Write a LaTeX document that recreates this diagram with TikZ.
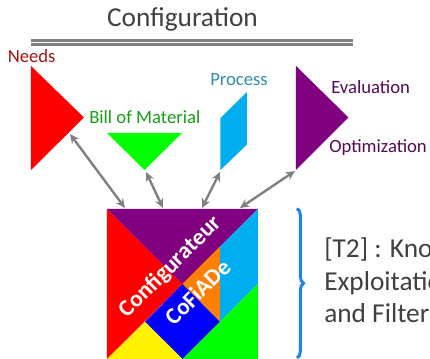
\documentclass[tikz,border=0pt]{standalone}
\usepackage{fontspec}
\setmainfont{Carlito}
\usetikzlibrary{decorations.pathreplacing,arrows.meta}
\definecolor{cred}{RGB}{255,0,0}
\definecolor{cgreen}{RGB}{0,255,0}
\definecolor{ccyan}{RGB}{0,174,239}
\definecolor{cpurple}{RGB}{128,0,128}
\definecolor{cblue}{RGB}{0,0,255}
\definecolor{corange}{RGB}{255,128,0}
\definecolor{cyellow}{RGB}{255,242,0}
\definecolor{tred}{RGB}{160,20,20}
\definecolor{tgreen}{RGB}{20,160,20}
\definecolor{tblue}{RGB}{50,140,170}
\definecolor{tpurple}{RGB}{85,10,85}
\definecolor{tgrey}{RGB}{64,64,64}
\definecolor{cbrace}{RGB}{30,130,240}
\tikzset{x=0.75pt,y=-0.75pt,
 lab/.style={inner sep=0pt,anchor=base west,font=\fontsize{14}{16}\selectfont},
 arr/.style={draw=gray,line width=1.8pt,{Stealth[length=7pt,width=6.5pt]}-{Stealth[length=7pt,width=6.5pt]}},
 big/.style={inner sep=0pt,anchor=base west,text=tgrey,font=\fontsize{20.5}{24}\selectfont},
 rot/.style={inner sep=0pt,text=white,rotate=45,font=\bfseries\fontsize{17.5}{20}\selectfont}}
\begin{document}
\begin{tikzpicture}
\useasboundingbox (0,0) rectangle (430,359);
\clip (0,0) rectangle (430,359);
\node[big,anchor=base] (title) at (182.5,27) {Configuration};
\draw[gray,line width=1.8pt] (31,40.5) -- (353,40.5);
\draw[gray,line width=1.8pt] (31,44.5) -- (353,44.5);
% upper shapes
\fill[cred] (31,66) -- (84,117.5) -- (31,170) -- cycle;
\fill[cgreen] (107,133) -- (182,133) -- (144.5,170) -- cycle;
\fill[ccyan] (220.5,118) -- (247,92) -- (247,144.5) -- (220.5,170) -- cycle;
\fill[cpurple] (296,66) -- (348.5,117.5) -- (296,170) -- cycle;
\coordinate (a1) at (70,134);
\coordinate (b1) at (125,208);
\coordinate (a2) at (146,172);
\coordinate (b2) at (163,208);
\coordinate (a3) at (220,172);
\coordinate (b3) at (202,208);
\coordinate (a4) at (295,171);
\coordinate (b4) at (240,208);
\draw[arr] (a1) -- (b1);
\draw[arr] (a2) -- (b2);
\draw[arr] (a3) -- (b3);
\draw[arr] (a4) -- (b4);
% labels
\node[lab,text=tred] (needs) at (7.5,63) {Needs};
\node[lab,text=tgreen] (bom) at (89,124) {Bill of Material};
\node[lab,text=tblue] (proc) at (210,86) {Process};
\node[lab,text=tpurple] (ev) at (331,94) {Evaluation};
\node[lab,text=tpurple] (opt) at (329,153) {Optimization};
% tangram
\fill[cred] (107,209) -- (182.5,284) -- (107,359) -- cycle;
\fill[cpurple] (107,209) -- (258,209) -- (182.5,284) -- cycle;
\fill[ccyan] (258,209) -- (258,284) -- (220,322) -- (220,246.5) -- cycle;
\fill[corange] (220,246.5) -- (220,322) -- (182.5,284) -- cycle;
\fill[cblue] (182.5,284) -- (220,322) -- (182.5,359) -- (145,322) -- cycle;
\fill[cyellow] (107,359) -- (145,322) -- (182.5,359) -- cycle;
\fill[cgreen] (258,284) -- (258,359) -- (182.5,359) -- cycle;
\node[rot] (conf) at (170.5,267) {Configurateur};
\node[rot] (cof) at (198,292) {CoFiADe};
% brace
\draw[cbrace,line width=2.2pt,decorate,decoration={brace,amplitude=5pt}] (297,208.5) -- (297,358);
\node[big] (t1) at (324,258) {[T2] : Know};
\node[big] (t2) at (324,291) {Exploitatio};
\node[big] (t3) at (324,323) {and Filteri};
\end{tikzpicture}
\end{document}
